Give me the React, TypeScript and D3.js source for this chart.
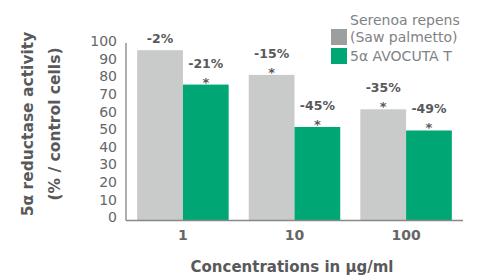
import React from 'react';
import * as d3 from 'd3';

const concentrations = ['1', '10', '100'];
const serenoaValues = [96.5, 82.5, 63];
const avocutaValues = [77, 53, 51];
const serenoaLabels = ['-2%', '-15%', '-35%'];
const avocutaLabels = ['-21%', '-45%', '-49%'];
const serenoaStar = [false, true, true];
const avocutaStar = [true, true, true];
const yTicks = [0, 10, 20, 30, 40, 50, 60, 70, 80, 90, 100];

const GRAY = '#c9caca';
const GREEN = '#00a775';
const TEXT = '#58595b';
const FONT = '"DejaVu Sans", sans-serif';

const App: React.FC = () => {
    const width = 480;
    const height = 275;
    const x0 = 126;
    const x1 = 463;
    const y0 = 220.5;

    const x = d3.scaleBand<string>().domain(concentrations).range([x0, x1]).paddingInner(0.18).paddingOuter(0.1);
    const sub = d3.scaleBand<string>().domain(['s', 'a']).range([0, x.bandwidth()]);
    const y = d3.scaleLinear().domain([0, 100]).range([y0, 44]);

    const series = [
        {key: 's', values: serenoaValues, labels: serenoaLabels, stars: serenoaStar, color: GRAY},
        {key: 'a', values: avocutaValues, labels: avocutaLabels, stars: avocutaStar, color: GREEN},
    ];

    return (
        <svg width={width} height={height} style={{position: 'absolute', left: 0, top: 0}} fontFamily={FONT}>
            {series.map(s => concentrations.map((c, i) => {
                const bx = (x(c) ?? 0) + (sub(s.key) ?? 0);
                const by = y(s.values[i]);
                const cx = bx + sub.bandwidth() / 2;
                return (
                    <g key={s.key + c}>
                        <rect x={bx} y={by} width={sub.bandwidth()} height={y0 - by} fill={s.color}/>
                        <text x={cx} y={s.stars[i] ? by - 17 : by - 7} textAnchor="middle" fontSize={12.5}
                              fontWeight="bold" fill={TEXT}>{s.labels[i]}</text>
                        {s.stars[i] && <text x={cx} y={by + 2} textAnchor="middle" fontSize={13}
                                             fontWeight="bold" fill={TEXT}>*</text>}
                    </g>
                );
            }))}
            <line x1={x0} x2={x0} y1={43} y2={y0} stroke="#777" strokeWidth={1.2}/>
            <line x1={x0} x2={x1} y1={y0} y2={y0} stroke="#888" strokeWidth={1.5}/>
            {yTicks.map(t => (
                <text key={t} x={117} y={y(t) - 3} dy="0.35em" textAnchor="end" fontSize={14} fill="#666">{t}</text>
            ))}
            {concentrations.map(c => (
                <text key={c} x={(x(c) ?? 0) + x.bandwidth() / 2} y={235} dy="0.35em" textAnchor="middle"
                      fontSize={14} fontWeight="bold" fill="#666">{c}</text>
            ))}
            <text x={292} y={267} dy="0.35em" textAnchor="middle" fontSize={15} fontWeight="bold" fill={TEXT}>
                Concentrations in µg/ml
            </text>
            <g transform="translate(28,124) rotate(-90)">
                <text x={0} y={0} dy="0.35em" textAnchor="middle" fontSize={15.5} fontWeight="bold" fill={TEXT}>
                    5α reductase activity
                </text>
                <text x={0} y={27} dy="0.35em" textAnchor="middle" fontSize={15.5} fontWeight="bold" fill={TEXT}>
                    (% / control cells)
                </text>
            </g>
            <rect x={331} y={29} width={16} height={16} fill="#9d9e9e"/>
            <rect x={331} y={48} width={16} height={16} fill={GREEN}/>
            <text x={350} y={20} dy="0.35em" fontSize={14} fill="#808285">Serenoa repens</text>
            <text x={350} y={37} dy="0.35em" fontSize={14} fill="#808285">(Saw palmetto)</text>
            <text x={350} y={56} dy="0.35em" fontSize={14} fill="#808285">5α AVOCUTA T</text>
        </svg>
    );
};

export default App;
